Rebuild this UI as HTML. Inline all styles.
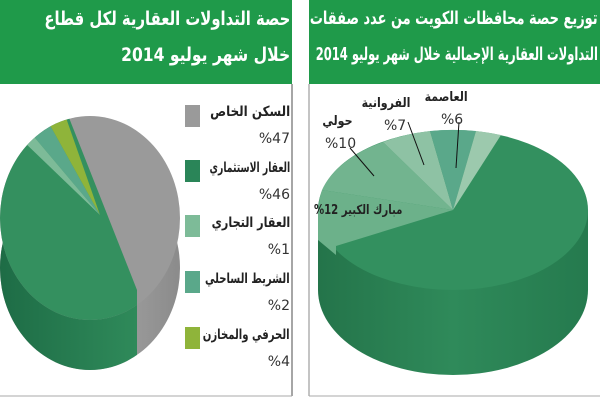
<!DOCTYPE html>
<html><head><meta charset="utf-8"><style>
body{margin:0;width:600px;height:400px;background:#fff;position:relative;overflow:hidden;font-family:"Liberation Sans","Noto Sans CJK SC",sans-serif}
.t{position:absolute;direction:rtl;white-space:nowrap;font-family:"DejaVu Sans","Noto Sans CJK SC",sans-serif;transform-origin:right center}
.h{color:#fff;font-weight:bold;font-size:19px}
.l{color:#222;font-weight:bold;font-size:14px;transform:scaleX(0.85)}
.p{color:#333;font-size:14px}
.box{position:absolute;top:0;height:84px;overflow:hidden}
</style></head><body>
<svg width="600" height="400" style="position:absolute;left:0;top:0">
<defs>
<linearGradient id="dg" x1="0" x2="1"><stop offset="0" stop-color="#1d6b45"/><stop offset="1" stop-color="#2f8a5a"/></linearGradient>
<linearGradient id="gg" x1="0" x2="1"><stop offset="0" stop-color="#8a8a8a"/><stop offset="0.5" stop-color="#a5a5a5"/><stop offset="1" stop-color="#888"/></linearGradient>
<linearGradient id="rg" x1="0" x2="1"><stop offset="0" stop-color="#24744a"/><stop offset="0.5" stop-color="#2f8a5a"/><stop offset="1" stop-color="#257a4e"/></linearGradient>
<clipPath id="face"><ellipse cx="90" cy="218" rx="90" ry="102"/></clipPath>
<clipPath id="side"><ellipse cx="90" cy="268" rx="90" ry="102"/></clipPath>
</defs>
<rect x="0" y="0" width="292" height="84" fill="#1f9a4a"/>
<line x1="292" y1="84" x2="292" y2="396" stroke="#888" stroke-width="1.5"/>
<line x1="0" y1="396" x2="292" y2="396" stroke="#aaa"/>
<g clip-path="url(#side)">
<rect x="0" y="150" width="190" height="230" fill="url(#gg)"/>
<path d="M-5 160 L137 290 L137 400 L-5 400Z" fill="url(#dg)"/>
</g>
<g clip-path="url(#face)">
<rect x="0" y="110" width="190" height="220" fill="#9a9a9a"/>
<path d="M62 100 L137 290 L137 330 L-10 330 L-10 130 Z" fill="#34905f"/>
<path d="M30 132 L100 215 L46 118 Z" fill="#5aa88a"/>
<path d="M22 140 L100 215 L30 132 Z" fill="#7dbb98"/>
<path d="M46 118 L100 215 L64 112 Z" fill="#8fb43a"/>
</g>
<rect x="185" y="105" width="15" height="22" fill="#9a9a9a"/>
<rect x="185" y="160" width="15" height="22" fill="#2a8558"/>
<rect x="185" y="215" width="15" height="22" fill="#7dbb98"/>
<rect x="185" y="271" width="15" height="22" fill="#5aa88a"/>
<rect x="185" y="327" width="15" height="22" fill="#8fb43a"/>
<rect x="309" y="0" width="291" height="84" fill="#1f9a4a"/>
<line x1="309" y1="84" x2="309" y2="396" stroke="#888"/>
<line x1="309" y1="396" x2="600" y2="396" stroke="#aaa"/>
<path d="M318 210 L318 290 A135 85 0 0 0 588 290 L588 210 Z" fill="url(#rg)"/>
<ellipse cx="453" cy="210" rx="135" ry="80" fill="#33905f"/>
<path d="M453 210 L336 246 A135 80 0 0 1 322 190 Z" fill="#6cb18a"/>
<path d="M453 210 L322 190 A135 80 0 0 1 383 142 Z" fill="#72b48f"/>
<path d="M453 210 L383 142 A135 80 0 0 1 430 131 Z" fill="#8ec2a4"/>
<path d="M453 210 L430 131 A135 80 0 0 1 476 131 Z" fill="#5aa88a"/>
<path d="M453 210 L476 131 A135 80 0 0 1 501 135 Z" fill="#9cc9ad"/>
<path d="M318 210 L336 246 L336 255 L318 240Z" fill="#6cb18a"/>
<line x1="350" y1="148" x2="374" y2="176" stroke="#111"/>
<line x1="408" y1="122" x2="424" y2="165" stroke="#111"/>
<line x1="459" y1="122" x2="456" y2="168" stroke="#111"/>
</svg>
<div class="box" style="left:0;width:292px">
<div class="t h" style="right:2px;top:8px;transform:scaleX(0.78)">حصة التداولات العقارية لكل قطاع</div>
<div class="t h" style="right:2px;top:44px;transform:scaleX(0.82)">خلال شهر يوليو 2014</div>
</div>
<div class="box" style="left:309px;width:291px">
<div class="t h" style="right:2px;top:8px;font-size:18px;transform:scaleX(0.72)">توزيع حصة محافظات الكويت من عدد صفقات</div>
<div class="t h" style="right:2px;top:44px;font-size:18px;transform:scaleX(0.64)">التداولات العقارية الإجمالية خلال شهر يوليو 2014</div>
</div>
<div class="t l" style="right:310px;top:104px">السكن الخاص</div>
<div class="t p" style="right:310px;top:131px">%47</div>
<div class="t l" style="right:310px;top:160px;transform:scaleX(0.66)">العقار الاستثماري</div>
<div class="t p" style="right:310px;top:187px">%46</div>
<div class="t l" style="right:310px;top:215px;transform:scaleX(0.8)">العقار التجاري</div>
<div class="t p" style="right:310px;top:242px">%1</div>
<div class="t l" style="right:310px;top:271px;transform:scaleX(0.72)">الشريط الساحلي</div>
<div class="t p" style="right:310px;top:298px">%2</div>
<div class="t l" style="right:310px;top:327px;transform:scaleX(0.72)">الحرفي والمخازن</div>
<div class="t p" style="right:310px;top:354px">%4</div>
<div class="t l" style="right:132px;top:90px;font-size:13px">العاصمة</div>
<div class="t p" style="left:441px;top:112px">%6</div>
<div class="t l" style="right:190px;top:96px;font-size:13px">الفروانية</div>
<div class="t p" style="left:384px;top:118px">%7</div>
<div class="t l" style="right:247px;top:114px;font-size:13px">حولي</div>
<div class="t p" style="left:325px;top:136px">%10</div>
<div class="t l" style="right:198px;top:203px;font-size:13px;direction:ltr;transform:scaleX(0.78)">%12 <span dir="rtl">مبارك الكبير</span></div>
</body></html>
